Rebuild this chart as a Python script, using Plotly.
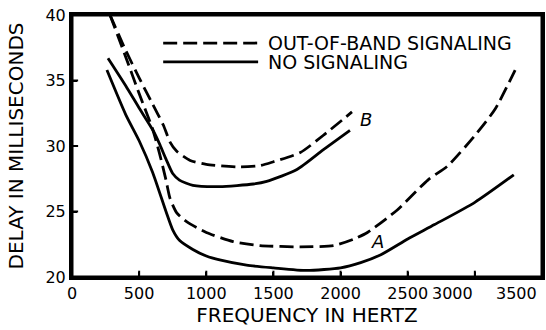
import plotly.graph_objects as go

# Curve A, no signaling (solid)
a_solid_f = [260, 400, 500, 600, 700, 750, 800, 900, 1000, 1100, 1300, 1500, 1750, 2000, 2150, 2300, 2500, 2700, 3000, 3290]
a_solid_d = [35.8, 32.4, 30.4, 28.0, 25.0, 23.6, 22.8, 22.1, 21.6, 21.3, 20.9, 20.7, 20.5, 20.7, 21.1, 21.7, 22.9, 24.0, 25.7, 27.8]

# Curve A, out-of-band signaling (dashed)
a_dash_f = [283, 400, 500, 600, 650, 700, 730, 780, 856, 1000, 1200, 1400, 1700, 1950, 2100, 2200, 2420, 2650, 2800, 3000, 3150, 3300]
a_dash_d = [40.0, 36.8, 34.0, 31.3, 29.5, 27.4, 26.0, 24.9, 24.2, 23.4, 22.7, 22.4, 22.3, 22.4, 22.9, 23.4, 25.1, 27.4, 28.5, 30.8, 32.8, 35.8]

# Curve B, no signaling (solid)
b_solid_f = [268, 400, 500, 603, 650, 700, 750, 800, 900, 1100, 1350, 1450, 1675, 1870, 2070]
b_solid_d = [36.7, 34.6, 32.9, 31.2, 30.2, 29.0, 27.9, 27.4, 27.0, 26.9, 27.1, 27.3, 28.2, 29.7, 31.2]

# Curve B, out-of-band signaling (dashed)
b_dash_f = [283, 400, 500, 600, 680, 730, 780, 880, 1000, 1250, 1400, 1500, 1700, 1870, 2085]
b_dash_d = [40.0, 37.3, 35.2, 33.2, 31.6, 30.3, 29.6, 28.9, 28.6, 28.4, 28.5, 28.8, 29.5, 30.8, 32.6]

x_ticks = [0, 500, 1000, 1500, 2000, 2500, 3000, 3500]
x_tick_text = ["0", "500", "1000", "1500", "2000", "2500", "", ""]
right_x_labels = ["3000", "3500"]
y_ticks = [20, 25, 30, 35, 40]

legend_labels = ["OUT-OF-BAND SIGNALING", "NO SIGNALING"]
curve_labels = ["A", "B"]
label_pos_f = [2278, 2189]
label_pos_d = [22.7, 32.0]

FONT = "DejaVu Sans"
DASH = "14px,6px"
LW = 2.8

fig = go.Figure()
for f, d, dash in [(a_solid_f, a_solid_d, "solid"), (a_dash_f, a_dash_d, DASH),
                   (b_solid_f, b_solid_d, "solid"), (b_dash_f, b_dash_d, DASH)]:
    fig.add_trace(go.Scatter(x=f, y=d, mode="lines",
                             line=dict(color="black", width=LW, dash=dash, shape="spline", smoothing=0.6),
                             showlegend=False, hoverinfo="skip"))

for lab, fx, dy in zip(curve_labels, label_pos_f, label_pos_d):
    fig.add_annotation(x=fx, y=dy, text="<i>%s</i>" % lab, showarrow=False,
                       font=dict(family=FONT, size=18, color="black"))

# the last two x tick labels sit left of their ticks, as in the reference
for lab, xv, sh in zip(right_x_labels, x_ticks[-2:], [0, -3]):
    fig.add_annotation(x=xv, y=0, yref="paper", xanchor="right", yanchor="middle",
                       xshift=sh, yshift=-16, text=lab, showarrow=False,
                       font=dict(family=FONT, size=16, color="black"))

# legend keys (drawn as shapes in paper coordinates)
key_y = [0.893, 0.821]
key_dash = [DASH, "solid"]
for yy, dsh, lab in zip(key_y, key_dash, legend_labels):
    fig.add_shape(type="line", xref="paper", yref="paper", x0=0.194, x1=0.396, y0=yy, y1=yy,
                  line=dict(color="black", width=LW, dash=dsh))
    fig.add_annotation(xref="paper", yref="paper", x=0.413, y=yy, xanchor="left", yanchor="middle",
                       text=lab, showarrow=False, font=dict(family=FONT, size=19, color="black"))

# plot frame
fig.add_shape(type="rect", xref="paper", yref="paper", x0=0, x1=1, y0=0, y1=1,
              line=dict(color="black", width=3), layer="above")

# inside tick marks
for xv in x_ticks[1:-1]:
    fig.add_shape(type="line", xref="x", yref="paper", x0=xv, x1=xv, y0=0, y1=0.024,
                  line=dict(color="black", width=2), layer="above")
for yv in y_ticks[1:-1]:
    fig.add_shape(type="line", xref="paper", yref="y", x0=0, x1=0.013, y0=yv, y1=yv,
                  line=dict(color="black", width=2), layer="above")

axis_common = dict(showline=True, linecolor="black", linewidth=3, mirror=True,
                   ticks="inside", ticklen=5, tickwidth=2, tickcolor="black",
                   showgrid=False, zeroline=False, automargin=False,
                   tickfont=dict(family=FONT, size=16, color="black"))

fig.update_layout(
    template="none",
    width=546, height=330,
    margin=dict(l=72, r=4, t=15, b=53, autoexpand=False),
    paper_bgcolor="white", plot_bgcolor="white",
    font=dict(family=FONT, color="black"),
    xaxis=dict(range=[0, 3500], tickvals=x_ticks, ticktext=x_tick_text,
               title=dict(text="FREQUENCY IN HERTZ", font=dict(family=FONT, size=20, color="black"), standoff=1),
               **axis_common),
    yaxis=dict(range=[20, 40], tickvals=y_ticks,
               title=dict(text="DELAY IN MILLISECONDS", font=dict(family=FONT, size=20, color="black"), standoff=17),
               **axis_common),
)

fig.write_html("out.html", config={"displayModeBar": False},
               post_script="document.body.style.margin='0';document.body.style.overflow='hidden';")
